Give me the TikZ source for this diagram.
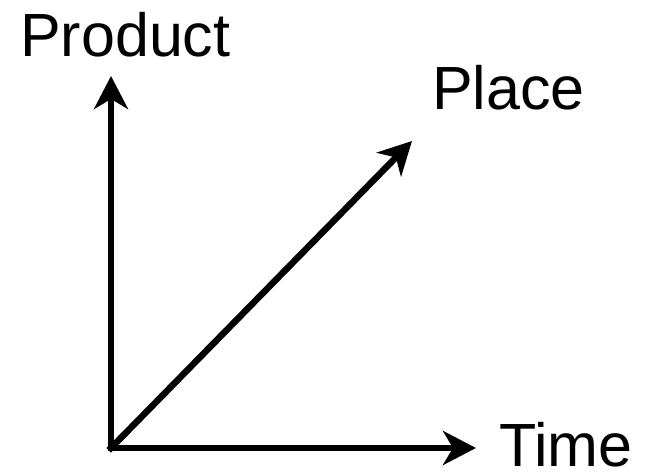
\documentclass[tikz,border=0pt]{standalone}
\usepackage{fontspec}
\setmainfont{Liberation Sans}
\usetikzlibrary{arrows.meta, positioning}
\tikzset{
  axis/arrow/.style = {-{Stealth[length=33pt, width=34pt, inset=10pt]},
                       line width=6.5pt, draw=black, line cap=rect},
  axis/label/.style = {font=\fontsize{61}{61}\selectfont, inner sep=0pt,
                       text depth=0pt, anchor=base west},
}
\begin{document}
\begin{tikzpicture}[x=1pt, y=1pt]
      \useasboundingbox (0,0) rectangle (648,475);
      % origin and arrow ends
      \coordinate (o)     at (111, 27);
      \coordinate (prod)  at (111, 399);
      \coordinate (plc)   at (412, 334);
      \coordinate (tm)    at (476, 27);
      % axis labels
      \node[axis/label] (lprod) at (20, 418)  {Product};
      \node[axis/label] (lplc)  at (432, 365) {Place};
      \node[axis/label] (ltm)   at (499, 9)   {Time};
      % axes
      \draw[axis/arrow] (o) -- (prod);
      \draw[axis/arrow] (o) -- (tm);
      \draw[axis/arrow] (o) -- (plc);
\end{tikzpicture}
\end{document}
